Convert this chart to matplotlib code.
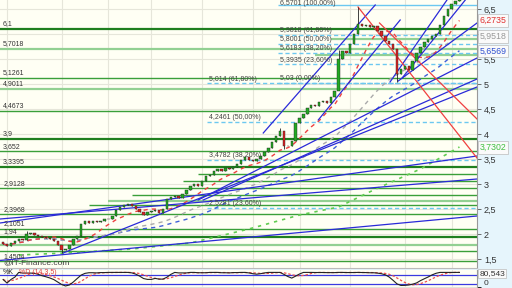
import numpy as np
import pandas as pd
import matplotlib
matplotlib.use("Agg")
import matplotlib.pyplot as plt
from matplotlib.transforms import blended_transform_factory

plt.rcParams["font.family"] = ["Liberation Sans", "DejaVu Sans"]

# daily closes
closes = [
    1.80, 1.76, 1.82, 1.86, 1.90, 1.88, 2.00, 2.03, 1.98, 1.97,
    1.95, 1.92, 1.90, 1.86, 1.78, 1.68, 1.70, 1.78, 1.90, 1.96,
    2.20, 2.26, 2.22, 2.26, 2.24, 2.27, 2.30, 2.30, 2.36, 2.48,
    2.55, 2.58, 2.60, 2.56, 2.50, 2.44, 2.38, 2.44, 2.46, 2.48,
    2.42, 2.50, 2.70, 2.74, 2.76, 2.72, 2.80, 2.88, 2.96, 3.00,
    2.96, 3.06, 3.16, 3.18, 3.26, 3.30, 3.26, 3.32, 3.30, 3.34,
    3.40, 3.48, 3.54, 3.48, 3.46, 3.50, 3.56, 3.64, 3.72, 3.84,
    3.96, 4.06, 3.76, 3.76, 3.86, 4.22, 4.32, 4.40, 4.52, 4.58,
    4.56, 4.64, 4.66, 4.62, 4.74, 4.86, 5.50, 5.66, 5.62, 5.80,
    6.00, 6.20, 6.16, 6.18, 6.14, 6.16, 6.06, 5.96, 5.86, 5.80,
    5.70, 5.20, 5.30, 5.36, 5.28, 5.46, 5.62, 5.74, 5.84, 5.90,
    5.96, 6.00, 6.18, 6.36, 6.50, 6.60, 6.66, 6.70,
]
first_open = 1.84
spike_high = {6: 2.06, 71: 4.12, 91: 6.54, 86: 5.68}
spike_low = {15: 1.62, 72: 3.70, 101: 5.04, 86: 5.14}

month_starts = [1, 15, 27, 38, 51, 64, 76, 89, 103, 115]

# horizontal support / resistance levels
level_vals = [6.1, 5.7018, 5.1261, 4.9011, 4.4673, 3.9, 3.652, 3.3395, 2.9128, 2.3968, 2.1051, 1.94, 1.4504]
level_kind = ["dark", "light", "mid", "light", "mid", "dark", "mid", "dark", "mid", "mid", "mid", "dark", "mid"]
extra_vals = [5.91, 5.58, 3.2, 3.07, 2.78, 2.67, 2.58, 1.78, 1.66]
extra_start = [84, 80, 50, 46, 33, 27, 22, -1, -1]
extra_kind = ["light", "light", "mid", "mid", "mid", "light", "mid", "light", "mid"]

# fibonacci retracements
fib1_vals = [6.5701, 5.9818, 5.8001, 5.6183, 5.3935, 5.03]
fib1_pct = ["100,00%", "61,80%", "50,00%", "38,20%", "23,60%", "0,00%"]
fib1_start = 70.5
fib2_vals = [5.014, 4.2461, 3.4782, 2.5281]
fib2_pct = ["61,80%", "50,00%", "38,20%", "23,60%"]
fib2_start = 52.3

# trend lines: (bar0, price0, bar1, price1)
blue_lines = [
    (-0.8, 1.47, 121.5, 2.36),
    (15.4, 1.62, 121.5, 4.94),
    (-0.8, 2.22, 121.5, 3.56),
    (-0.8, 2.30, 121.5, 3.10),
    (50.0, 2.68, 121.5, 5.52),
    (51.3, 2.68, 121.5, 5.10),
    (66.7, 4.02, 95.4, 6.58),
    (80.8, 4.28, 101.8, 6.28),
    (99.2, 5.04, 113.8, 6.68),
    (102.3, 5.12, 118.5, 6.68),
    (101.3, 5.06, 121.5, 6.22),
]
red_lines = [
    (91.0, 6.54, 121.5, 3.52),
    (96.5, 6.22, 121.5, 4.30),
]

# long moving average (green dotted)
green_bars = [4, 16, 33, 48, 63, 76, 86, 95, 107, 117]
green_vals = [1.58, 1.62, 1.70, 1.82, 2.10, 2.38, 2.54, 2.88, 3.30, 3.74]

right_boxes = [(6.2735, "6,2735", "#e03030"), (5.9518, "5,9518", "#999999"),
               (5.6569, "5,6569", "#3050d0"), (3.7302, "3,7302", "#40c040")]

c = pd.Series(closes)
n = len(c)
idx = np.arange(n)
opens = pd.concat([pd.Series([first_open]), c[:-1]]).to_numpy()

fig = plt.figure(figsize=(5.12, 2.88), dpi=100, facecolor="#e6f5fc")
ax = fig.add_axes([0, 20 / 288, 477 / 512, 268 / 288])
ax2 = fig.add_axes([0, 0, 477 / 512, 18 / 288])
bg = "#fffff4"
for a in (ax, ax2):
    a.set_facecolor(bg)
    a.spines["top"].set_visible(False)
    a.spines["left"].set_visible(False)
    a.spines["right"].set_color("#999999")
    a.spines["bottom"].set_color("#bbbbbb")
    a.set_xlim(-0.8, 121.5)
    a.set_xticks(month_starts)
    a.tick_params(axis="x", length=0, labelbottom=False)
    a.grid(True, color="#e6e6da", lw=0.8)
    a.set_axisbelow(True)

ax.set_ylim(1.32, 6.68)
ticks = [1.5, 2, 2.5, 3, 3.5, 4, 4.5, 5, 5.5, 6, 6.5]
ax.set_yticks(ticks)
ax.set_yticklabels(["" if t == 6 else ("%g" % t).replace(".", ",") for t in ticks])
ax.yaxis.tick_right()
ax.tick_params(axis="y", length=3, width=0.6, color="#555555", labelsize=6.5,
               labelcolor="#333333", pad=2)

styles = {"dark": ("#1f7f1f", 1.6), "mid": ("#3a9f3a", 1.0), "light": ("#92d092", 1.6)}
for v, k in zip(level_vals, level_kind):
    col, lw = styles[k]
    ax.axhline(v, color=col, lw=lw, zorder=1)
    ax.text(0.0, v + 0.03, ("%g" % v).replace(".", ","), fontsize=5, color="#333333",
            va="bottom", ha="left", zorder=6)
for v, s, k in zip(extra_vals, extra_start, extra_kind):
    col, lw = styles[k]
    ax.hlines(v, s, 121.5, color=col, lw=lw, zorder=1)

for vals, pcts, x0 in ((fib1_vals, fib1_pct, fib1_start), (fib2_vals, fib2_pct, fib2_start)):
    for v, p in zip(vals, pcts):
        ls = "-" if p == "100,00%" else (0, (3, 2))
        ax.hlines(v, x0, 121.5, color="#6cc8f0", lw=1.0, linestyles=[ls], zorder=2)
        label = "%s (%s)" % (("%g" % v).replace(".", ","), p)
        if p == "100,00%":
            ax.text(x0 + 0.5, 6.675, label, fontsize=5, color="#444444", va="top", ha="left", zorder=6)
        else:
            ax.text(x0 + 0.5, v + 0.012, label, fontsize=5, color="#444444",
                    va="bottom", ha="left", zorder=6)

# moving averages
ax.plot(idx, c.rolling(40, min_periods=1).mean(), color="#4060d8", lw=1.0, ls=(0, (3, 3)), zorder=3)
ax.plot(idx, c.rolling(30, min_periods=1).mean(), color="#aaaaaa", lw=1.0, ls=(0, (3, 3)), zorder=3)
ax.plot(idx, c.rolling(10, min_periods=1).mean(), color="#ee4040", lw=1.0, ls=(0, (3, 3)), zorder=3)
ax.plot(green_bars, green_vals, color="#60cc50", lw=1.2, ls=(0, (2, 3)), zorder=3)

for x0, y0, x1, y1 in blue_lines:
    ax.plot([x0, x1], [y0, y1], color="#2a2ad8", lw=0.9, zorder=4)
for x0, y0, x1, y1 in red_lines:
    ax.plot([x0, x1], [y0, y1], color="#f04040", lw=0.9, zorder=4)

# candlesticks
highs = np.maximum(opens, c.to_numpy())
lows = np.minimum(opens, c.to_numpy())
for i in range(n):
    hi = spike_high.get(i, highs[i])
    lo = spike_low.get(i, lows[i])
    ax.vlines(i, lo, hi, color="#222222", lw=0.6, zorder=5)
    up = c[i] >= opens[i]
    body = abs(c[i] - opens[i]) or 0.01
    ax.bar(i, body, bottom=lows[i], width=0.62, color="#22aa22" if up else "#dd2222",
           edgecolor="#222222", lw=0.3, zorder=5)

ax.text(0.0, 1.345, "@IT-Finance.com", fontsize=6, color="#444444", va="bottom", zorder=6)

tr = blended_transform_factory(ax.transAxes, ax.transData)
for v, s, col in right_boxes:
    ax.text(1.005, v, s, transform=tr, fontsize=6.3, color=col, va="center", ha="left",
            zorder=10, clip_on=False,
            bbox=dict(boxstyle="square,pad=0.2", fc="#fafafa", ec="#bbbbbb", lw=0.5))

# stochastic panel
lo14 = c.rolling(14, min_periods=1).min()
hi14 = c.rolling(14, min_periods=1).max()
raw = ((c - lo14) / (hi14 - lo14).replace(0, np.nan) * 100).fillna(50)
k = raw.rolling(3, min_periods=1).mean()
d = k.rolling(5, min_periods=1).mean()
ax2.set_ylim(-10, 117)
ax2.axhline(80, color="#3a3ae0", lw=0.9)
ax2.axhline(20, color="#3a3ae0", lw=0.9)
ax2.plot(idx, d, color="#ee5050", lw=0.9, ls=(0, (2, 1.5)))
ax2.plot(idx, k, color="#222222", lw=0.8)
ax2.set_yticks([0])
ax2.set_yticklabels(["0"])
ax2.yaxis.tick_right()
ax2.tick_params(axis="y", length=3, width=0.6, labelsize=6, labelcolor="#333333", pad=2)
for lbl in ax2.get_yticklabels():
    lbl.set_va("bottom")
ax2.text(0.005, 96, "%K", fontsize=5, color="#222222", va="center", transform=ax2.get_yaxis_transform())
ax2.text(0.04, 96, "%D (14,3,5)", fontsize=5, color="#e04040", va="center",
         transform=ax2.get_yaxis_transform())
ax2.text(1.005, 92, "80,543", transform=ax2.get_yaxis_transform(), fontsize=6, color="#333333",
         va="center", ha="left", clip_on=False,
         bbox=dict(boxstyle="square,pad=0.15", fc="#fafafa", ec="#bbbbbb", lw=0.5))

fig.savefig("out.png", dpi=100)
